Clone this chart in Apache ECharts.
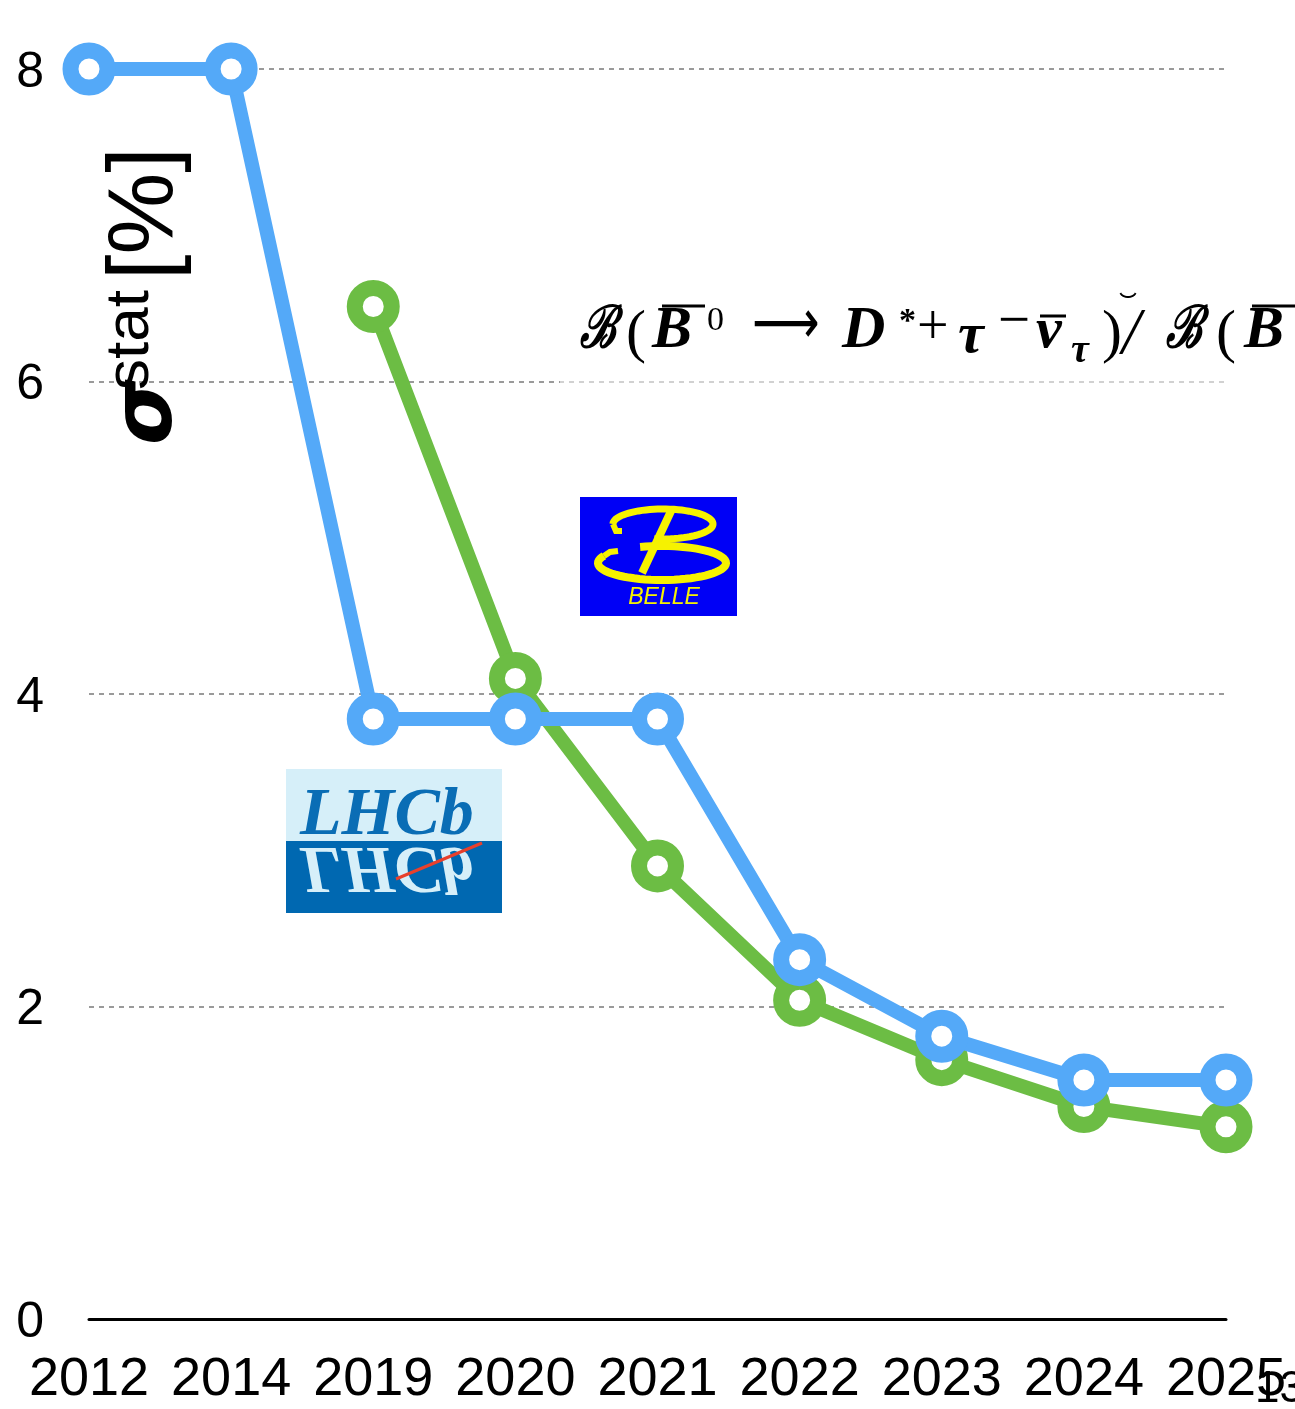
<!DOCTYPE html>
<html>
<head>
<meta charset="utf-8">
<script src="https://cdn.jsdelivr.net/npm/echarts@6/dist/echarts.min.js"></script>
<style>
  html, body { margin: 0; padding: 0; background: #fff; }
  #chart { width: 1295px; height: 1409px; }
</style>
</head>
<body>
<div id="chart"></div>
<script>
// Statistical precision of the R(D*) measurement per year
const years = ['2012', '2014', '2019', '2020', '2021', '2022', '2023', '2024', '2025'];
const lhcbPrecision = [8, 8, 3.84, 3.84, 3.84, 2.30, 1.81, 1.53, 1.53];
const bellePrecision = [null, null, 6.48, 4.10, 2.90, 2.04, 1.66, 1.36, 1.23];
const yTicks = [0, 2, 4, 6, 8];

const BLUE = '#54a9f8';
const GREEN = '#6cbd44';
const sans = '"Liberation Sans", Helvetica, Arial, sans-serif';
const serif = '"Liberation Serif", "DejaVu Serif", serif';

const chart = echarts.init(document.getElementById('chart'), null, { renderer: 'canvas' });

function lineSeries(name, data, color, z) {
  return {
    name: name,
    type: 'line',
    data: data.map(v => (v === null ? '-' : v)),
    z: z,
    symbol: 'circle',
    symbolSize: 37,
    showAllSymbol: true,
    lineStyle: { color: color, width: 14 },
    itemStyle: { color: '#ffffff', borderColor: color, borderWidth: 16 },
    emphasis: { disabled: true },
    clip: false,
    animation: false
  };
}

// text placed by its alphabetic baseline (canvas 'middle' sits ~0.34 em above it)
function baselineText(str, x, baseline, font, size, extra) {
  return Object.assign({
    type: 'text', x: x, y: baseline - 0.338 * size, z: 20,
    style: { text: str, font: font.replace('SIZE', size + 'px'), fill: '#000', verticalAlign: 'middle', textVerticalAlign: 'middle' }
  }, extra || {});
}
function bar(x1, x2, y, w) {
  return { type: 'line', z: 20, shape: { x1: x1, y1: y, x2: x2, y2: y }, style: { stroke: '#000', lineWidth: w || 3 } };
}
// points along an ellipse between two angles (degrees, screen orientation)
function ellipsePts(cx, cy, rx, ry, a0, a1) {
  const pts = [];
  const n = 60;
  for (let i = 0; i <= n; i++) {
    const a = (a0 + (a1 - a0) * i / n) * Math.PI / 180;
    pts.push([cx + rx * Math.cos(a), cy + ry * Math.sin(a)]);
  }
  return pts;
}

const MAIN = 'italic bold SIZE ' + serif;
const UPR = 'bold SIZE ' + serif;
const narrow = { scaleX: 0.74 };

const formula = [
  baselineText('ℬ', 580, 352, MAIN, 58, narrow),
  baselineText('(', 626, 356, 'SIZE ' + serif, 60),
  baselineText('B', 652, 352, MAIN, 60),
  bar(662, 705, 306),
  baselineText('0', 707, 333, 'SIZE ' + serif, 34),
  baselineText('⟶', 752, 348, 'SIZE "DejaVu Sans", sans-serif', 62, { scaleX: 0.76 }),
  baselineText('D', 842, 352, MAIN, 60),
  baselineText('*', 899, 334, UPR, 34),
  baselineText('+', 917, 348, 'SIZE ' + serif, 56),
  baselineText('τ', 958, 357, MAIN, 58),
  baselineText('−', 998, 344, 'SIZE ' + serif, 60, { scaleX: 0.95 }),
  baselineText('ν', 1036, 352, MAIN, 58),
  bar(1040, 1066, 316),
  baselineText('τ', 1071, 365, MAIN, 40),
  baselineText(')', 1102, 356, 'SIZE ' + serif, 60),
  baselineText('/', 1122, 358, 'italic SIZE ' + serif, 66),
  baselineText('ℬ', 1166, 352, MAIN, 58, narrow),
  baselineText('(', 1216, 356, 'SIZE ' + serif, 60),
  baselineText('B', 1244, 352, MAIN, 60),
  bar(1252, 1295, 306),
  { type: 'polyline', z: 20, shape: { points: ellipsePts(1128, 291, 8, 6, 20, 160) }, style: { stroke: '#000', lineWidth: 2, fill: null } }
];

const option = {
  backgroundColor: '#ffffff',
  animation: false,
  grid: { left: 89, right: 69, top: 69, bottom: 90, containLabel: false },
  xAxis: {
    type: 'category',
    data: years,
    boundaryGap: false,
    axisLine: { show: true, lineStyle: { color: '#000', width: 3 } },
    axisTick: { show: false },
    splitLine: { show: false },
    axisLabel: { color: '#000', fontFamily: sans, fontSize: 54, margin: 34, interval: 0 }
  },
  yAxis: {
    type: 'value',
    min: yTicks[0],
    max: yTicks[yTicks.length - 1],
    interval: 2,
    axisLine: { show: false },
    axisTick: { show: false },
    axisLabel: {
      color: '#000', fontFamily: sans, fontSize: 50, margin: 45,
      verticalAlign: 'top', lineHeight: 8,
      formatter: v => (yTicks.indexOf(v) >= 0 ? String(v) : '')
    },
    splitLine: { show: true, lineStyle: { color: '#9a9a9a', width: 2, type: [5, 5] } }
  },
  series: [
    lineSeries('Belle', bellePrecision, GREEN, 2),
    lineSeries('LHCb', lhcbPrecision, BLUE, 3)
  ],
  graphic: [
    // vertical axis title: sigma^stat [%]
    {
      type: 'group',
      x: 178, y: 445,
      rotation: Math.PI / 2,
      children: [
        baselineText('σ', 0, 0, 'italic bold SIZE "DejaVu Sans", sans-serif', 84),
        baselineText('stat', 55, -26, 'SIZE ' + sans, 62),
        baselineText('[%]', 165, 0, 'SIZE ' + sans, 92)
      ]
    },
    // soft backing behind the ratio label
    { type: 'rect', z: 15, shape: { x: 560, y: 282, width: 735, height: 106 }, style: { fill: 'rgba(255,255,255,0.55)' } },
    // branching-fraction ratio label
    { type: 'group', children: formula },
    // Belle emblem
    {
      type: 'group',
      x: 580, y: 497,
      children: [
        { type: 'rect', shape: { x: 0, y: 0, width: 157, height: 119 }, style: { fill: '#0000f6' } },
        { type: 'polyline', shape: { points: ellipsePts(83, 27, 50, 15, 180, 460) }, style: { fill: null, stroke: '#f6f200', lineWidth: 7 } },
        { type: 'polyline', shape: { points: [[33, 27], [36, 34], [42, 34]] }, style: { fill: null, stroke: '#f6f200', lineWidth: 6 } },
        { type: 'polyline', shape: { points: ellipsePts(82, 66, 64, 17, 250, 565) }, style: { fill: null, stroke: '#f6f200', lineWidth: 8 } },
        { type: 'polyline', shape: { points: [[24, 59], [30, 55], [38, 54]] }, style: { fill: null, stroke: '#f6f200', lineWidth: 6 } },
        { type: 'line', shape: { x1: 92, y1: 12, x2: 62, y2: 76 }, style: { stroke: '#f6f200', lineWidth: 8 } },
        { type: 'text', x: 84, y: 101, style: { text: 'BELLE', font: 'italic 23px ' + sans, fill: '#f6f200', align: 'center', textAlign: 'center', verticalAlign: 'middle', textVerticalAlign: 'middle' } }
      ]
    },
    // LHCb emblem
    {
      type: 'group',
      x: 286, y: 769,
      children: [
        { type: 'rect', shape: { x: 0, y: 0, width: 216, height: 72 }, style: { fill: '#d6eff9' } },
        { type: 'rect', shape: { x: 0, y: 72, width: 216, height: 72 }, style: { fill: '#0068b1' } },
        baselineText('LHCb', 14, 70, 'italic bold SIZE ' + serif, 68, { z: 1 }),
        {
          type: 'group', x: 14, y: 72, scaleY: -1,
          children: [
            { type: 'text', x: 0, y: -2 - 0.338 * 68, style: { text: 'LHCb', font: 'italic bold 68px ' + serif, fill: '#d6eff9', verticalAlign: 'middle', textVerticalAlign: 'middle' } }
          ]
        },
        { type: 'line', shape: { x1: 110, y1: 110, x2: 196, y2: 74 }, style: { stroke: '#e8402c', lineWidth: 3 } }
      ]
    },
    // page number
    { type: 'text', x: 1255, y: 1390, style: { text: '13', font: '44px ' + sans, fill: '#000', verticalAlign: 'middle', textVerticalAlign: 'middle' } }
  ]
};

// headline colour of the LHCb emblem
option.graphic[4].children[2].style.fill = '#0a6db5';

chart.setOption(option);
</script>
</body>
</html>
